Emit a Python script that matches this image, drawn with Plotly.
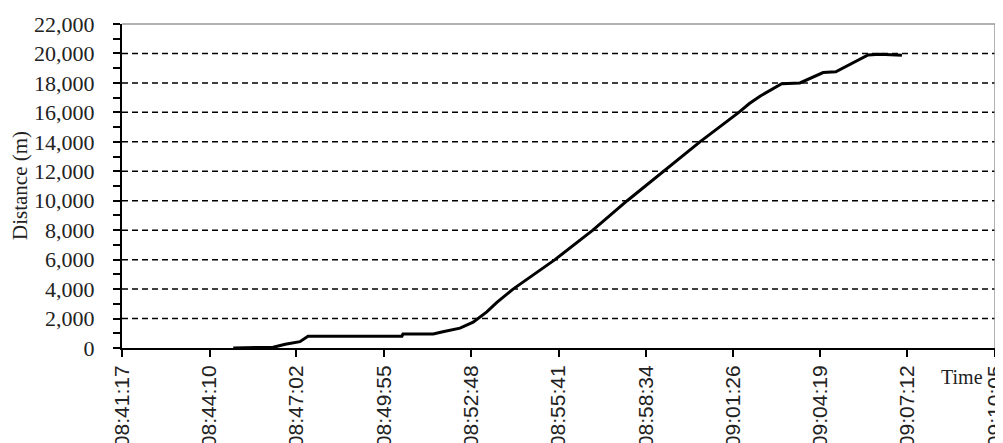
import plotly.graph_objects as go

# ---- data ----
times = ["08:44:57", "08:46:16", "08:46:40", "08:47:09", "08:47:25", "08:50:31",
         "08:50:33", "08:51:33", "08:51:52", "08:52:26", "08:52:52", "08:53:19",
         "08:53:39", "08:54:11", "08:55:34", "08:56:49", "08:57:57", "08:59:08",
         "09:00:21", "09:01:38", "09:01:59", "09:02:20", "09:03:03", "09:03:39",
         "09:04:25", "09:04:50", "09:05:54", "09:06:17", "09:07:01"]
distance = [0, 50, 250, 430, 800, 800,
            950, 950, 1100, 1350, 1750, 2450,
            3100, 4000, 6000, 8000, 10000, 12000,
            14000, 16000, 16600, 17100, 17950, 18000,
            18700, 18760, 19900, 19950, 19880]

x_tick_labels = ["08:41:17", "08:44:10", "08:47:02", "08:49:55", "08:52:48", "08:55:41",
                 "08:58:34", "09:01:26", "09:04:19", "09:07:12", "09:10:05"]
y_ticks = list(range(0, 22001, 2000))


def to_sec(s):
    h, m, sec = (int(v) for v in s.split(":"))
    return h * 3600 + m * 60 + sec


xs = [to_sec(t) for t in times]
x_tick_vals = [to_sec(t) for t in x_tick_labels]

fig = go.Figure()
fig.add_trace(go.Scatter(x=xs, y=distance, mode="lines",
                         line=dict(color="black", width=3), showlegend=False,
                         hoverinfo="skip"))

# dashed horizontal gridlines at major y ticks (excluding 0 and top)
for v in y_ticks[1:-1]:
    fig.add_shape(type="line", xref="paper", x0=0, x1=1, yref="y", y0=v, y1=v,
                  line=dict(color="black", width=1.5, dash="6px,4px"), layer="below")

# gray top and right border
fig.add_shape(type="line", xref="paper", x0=0, x1=1, yref="paper", y0=1, y1=1,
              line=dict(color="#999999", width=1.5))
fig.add_shape(type="line", xref="paper", x0=1, x1=1, yref="paper", y0=0, y1=1,
              line=dict(color="#999999", width=1.5))

# the page places the figure 8px in from the top-left corner
fig.update_layout(
    width=995, height=435,
    margin=dict(l=114, r=8, t=16, b=95),
    paper_bgcolor="white", plot_bgcolor="white",
    xaxis=dict(
        range=[x_tick_vals[0] - 0.3, x_tick_vals[-1] + 0.3],
        tickmode="array", tickvals=x_tick_vals, ticktext=x_tick_labels,
        tickangle=-90, ticks="outside", ticklen=7, tickwidth=1.5, tickcolor="black",
        showgrid=False, zeroline=False, showline=True, linecolor="black", linewidth=2,
        tickfont=dict(family="Liberation Sans", size=21, color="#222222"),
        ticklabeloverflow="allow",
        automargin=False, fixedrange=True,
    ),
    yaxis=dict(
        range=[0, 22000],
        tickmode="array", tickvals=y_ticks, tickformat=",d",
        ticks="outside", ticklen=7, tickwidth=1.5, tickcolor="black",
        minor=dict(dtick=1000, ticks="outside", ticklen=7, tickwidth=1.5,
                   tickcolor="black", showgrid=False),
        showgrid=False, zeroline=False, showline=True, linecolor="black", linewidth=2,
        tickfont=dict(family="Liberation Serif", size=22, color="#222222"),
        ticklabelstandoff=14,
        automargin=False, fixedrange=True,
    ),
    annotations=[
        dict(text="Distance (m)", xref="paper", yref="paper", x=0, y=0.5,
             xshift=-102, textangle=-90, showarrow=False,
             xanchor="center", yanchor="middle",
             font=dict(family="Liberation Serif", size=21, color="#222222")),
        dict(text="Time", xref="paper", yref="paper", x=1, y=0,
             xshift=-10, yshift=-29, showarrow=False,
             xanchor="right", yanchor="middle",
             font=dict(family="Liberation Serif", size=20, color="#222222")),
    ],
)

fig.write_html("out.html")
